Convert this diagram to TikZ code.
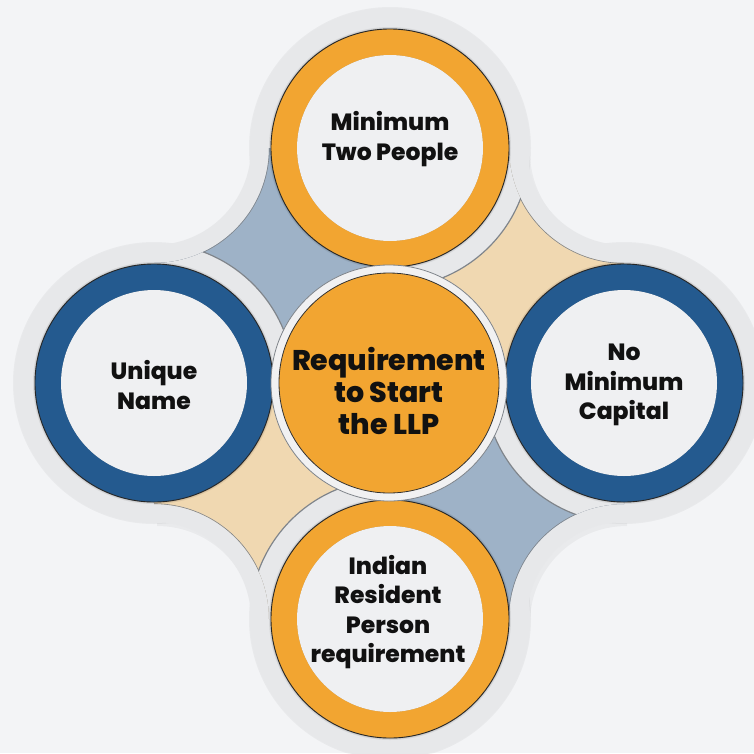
\documentclass[tikz,border=0pt]{standalone}
\usepackage{fontspec}
\setmainfont{Poppins}[BoldFont={Poppins ExtraBold}]
\definecolor{bgC}{HTML}{F3F4F6}
\definecolor{haloC}{HTML}{E7E8EA}
\definecolor{orangeC}{HTML}{F2A531}
\definecolor{blueC}{HTML}{245A8F}
\definecolor{slateC}{HTML}{9EB2C7}
\definecolor{sandC}{HTML}{F0D8B1}
\definecolor{discC}{HTML}{EFF0F2}
\definecolor{edgeC}{HTML}{80858B}
\definecolor{inkC}{HTML}{111111}
\begin{document}
\begin{tikzpicture}[x=1pt,y=-1pt,
  halo/.style={fill=haloC},
  seam/.style={draw=edgeC,line width=1.2pt},
  ringline/.style={draw=black!85,line width=0.9pt},
  label/.style={text=inkC,align=center,font=\fontsize{23.5}{29.5}\selectfont\bfseries},
  hub/.style={text=inkC,align=center,font=\fontsize{28.5}{32}\selectfont\bfseries}]

% canvas
\fill[bgC] (0,0) rectangle (754,753);
\useasboundingbox (0,0) rectangle (754,753);

% centres of the five discs
\coordinate (T) at (390,148);
\coordinate (L) at (154,383);
\coordinate (R) at (624,383);
\coordinate (B) at (390,619);
\coordinate (C) at (389,383);

% grey base plate: square with concave corners plus a halo round every outer disc
\fill[black,opacity=.04,xshift=3pt,yshift=-4pt]
  (251,148) -- (527,148) arc (180:90:97) -- (624,522) arc (270:180:97)
  -- (251,619) arc (0:-90:97) -- (154,245) arc (90:0:97) -- cycle;
\foreach \c in {T,L,R,B}{
  \fill[black,opacity=.04,xshift=3pt,yshift=-4pt] (\c) circle (141);
}
\fill[haloC]
  (251,148) -- (527,148) arc (180:90:97) -- (624,522) arc (270:180:97)
  -- (251,619) arc (0:-90:97) -- (154,245) arc (90:0:97) -- cycle;
\foreach \c in {T,L,R,B}{
  \fill[halo] (\c) circle (140);
}

% four concave panels; each slides under the halo of one neighbour
\begin{scope}
  \clip (269,148) arc (0:90:115) -- (154,383) -- (390,383) -- (390,148) -- cycle;
  \fill[slateC] (0,0) rectangle (754,753);
  \draw[seam] (154,148) circle (115);
  \filldraw[halo, seam] (L) circle (140);
\end{scope}
\begin{scope}
  \clip (509,148) arc (180:90:115) -- (624,383) -- (390,383) -- (390,148) -- cycle;
  \fill[sandC] (0,0) rectangle (754,753);
  \draw[seam] (624,148) circle (115);
  \filldraw[halo, seam] (T) circle (140);
\end{scope}
\begin{scope}
  \clip (509,619) arc (180:270:115) -- (624,383) -- (390,383) -- (390,619) -- cycle;
  \fill[slateC] (0,0) rectangle (754,753);
  \draw[seam] (624,619) circle (115);
  \filldraw[halo, seam] (R) circle (140);
\end{scope}
\begin{scope}
  \clip (269,619) arc (0:-90:115) -- (154,383) -- (390,383) -- (390,619) -- cycle;
  \fill[sandC] (0,0) rectangle (754,753);
  \draw[seam] (154,619) circle (115);
  \filldraw[halo, seam] (B) circle (140);
\end{scope}

% outer rings with their white faces
\foreach \c/\col in {T/orangeC,L/blueC,R/blueC,B/orangeC}{
  \fill[black,opacity=.07,xshift=5pt,yshift=-6pt] (\c) circle (121);
  \fill[black,opacity=.08,xshift=2pt,yshift=-3pt] (\c) circle (120);
  \filldraw[fill=\col, ringline] (\c) circle (119);
  \fill[black,opacity=.10,xshift=5pt,yshift=-6pt] (\c) circle (93);
  \fill[black,opacity=.14,xshift=2pt,yshift=-3pt] (\c) circle (93);
  \fill[discC] (\c) circle (93);
}

% central hub
\filldraw[fill=haloC!60!white, draw=edgeC, line width=0.8pt] (C) circle (118);
\fill[black,opacity=.10,xshift=2pt,yshift=-3pt] (C) circle (110);
\filldraw[fill=orangeC, draw=black!80, line width=0.8pt] (C) circle (110);

% labels
\node[label] (tTxt) at (390,139) {Minimum\\Two People};
\node[label] (lTxt) at (154,385) {Unique\\Name};
\node[label] (rTxt) at (624,385) {No\\Minimum\\Capital};
\node[label] (bTxt) at (388,612) {Indian\\Resident\\Person\\requirement};
\node[hub] (cTxt) at (389,391) {Requirement\\to Start\\the LLP};

\end{tikzpicture}
\end{document}
